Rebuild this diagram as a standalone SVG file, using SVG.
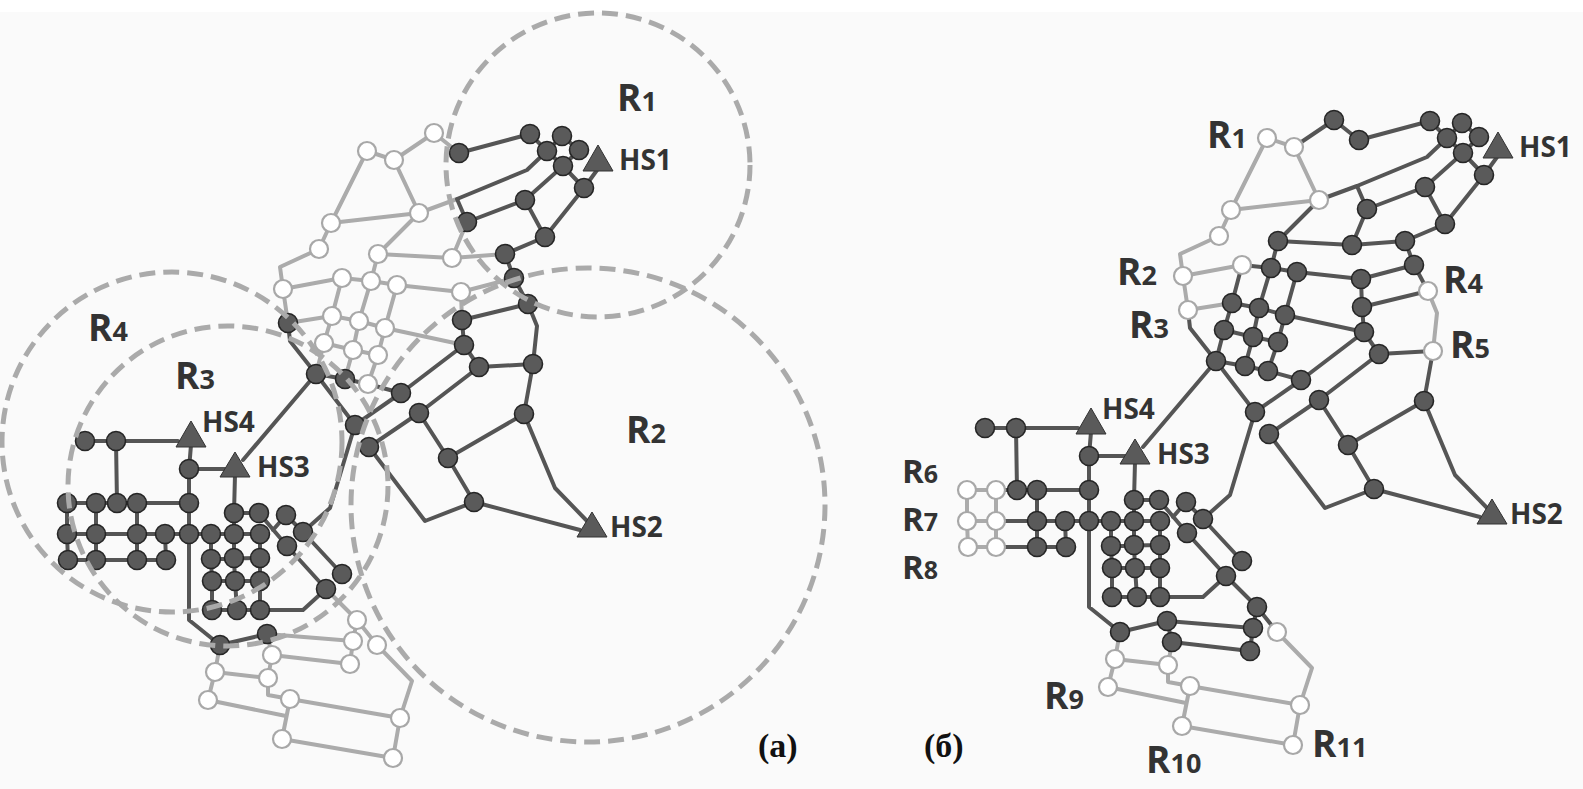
<svg xmlns="http://www.w3.org/2000/svg" width="1583" height="789" viewBox="0 0 1583 789">
<style>
.e{fill:none;stroke-width:4;stroke-linejoin:round;stroke-linecap:round}
.d{stroke:#555}
.l{stroke:#ababab}
.k{fill:#5a5a5a;stroke:#262626;stroke-width:1.6}
.w{fill:#fff;stroke:#a8a8a8;stroke-width:2.2}
.hs{fill:#5a5a5a;stroke:#333;stroke-width:1}
.t{font-family:"Open Sans","Liberation Sans",sans-serif;font-weight:700;fill:#333}
.r{font-size:37px}
.r tspan{font-size:27px}
.s{font-size:33px}
.s tspan{font-size:25px}
.h{font-size:28px}
.p{font-family:"Liberation Serif",serif;font-weight:700;font-size:34px;fill:#111}
.zone{fill:none;stroke:#aaa;stroke-width:5;stroke-dasharray:16 8}
</style>
<rect width="1583" height="789" fill="#fafafa"/>
<rect width="1583" height="12" fill="#fff"/>

<g id="panel-a">
<g id="a-connectors">
<g class="e l">
<path d="M367 151L394 160M367 151L331 223M394 160L419 213M394 160L434 133L459 153M331 223L419 213M331 223L319 249L280 267L283 289M419 213L457 199M419 213L378 254L452 258L505 254M452 258L467 222M378 254L371 281M283 289L342 278L371 281L397 285L461 292L514 278M461 292L462 320M283 289L288 323M288 323L332 316L359 321L385 328L464 345M342 278L332 316L324 343L316 374M371 281L359 321L353 350L345 379M397 285L385 328L378 355L368 384M324 343L353 350L378 355"/>
<path d="M326 589L357 620L377 645L412 681L400 718M357 620L353 641L350 664M267 634L353 641M267 634L272 655L350 664M220 645L215 672L208 700L286 716M215 672L268 678L268 695L290 699L400 718M272 655L268 678M290 699L282 739L393 758L400 718"/>
</g>
<g class="e d">
<path d="M459 153L530 134L547 151L562 136L579 150L563 166M547 151L563 166L584 188L600 166M563 166L525 200L467 222M525 200L545 237M584 188L545 237L505 254M547 151L527 170L457 199L467 222M505 254L514 278L528 304L462 320M528 304L537 326L533 364M462 320L464 345L479 367L533 364"/>
<path d="M288 323L290 341L316 374L345 379L368 384L401 393M316 374L355 425L401 393M464 345L401 393M479 367L419 413L369 447M419 413L448 458L474 502M448 458L524 414L533 364M524 414L555 488L588 522M474 502L580 530M474 502L425 521L369 447M355 425L330 508L303 532M316 374L243 460"/>
<path d="M85 441L178 441M116 441L117 503M191 445L189 469L189 620L220 645M189 469L225 469M235 475L234 513L234 534L234 558L235 581L237 610M67 503L189 503M67 534L260 534M68 560L166 560M67 503L67 534L68 560M96 503L96 534L96 560M137 503L137 534L137 560M165 534L166 560M211 534L211 559L212 581L212 610M260 534L260 558L260 581L260 610M211 559L260 558M212 581L260 581M212 610L260 610L303 610L326 589M234 513L259 513M259 513L287 546L326 589M286 515L273 530M286 515L303 532L342 574M220 645L267 634"/>
</g>
</g>
<g id="a-nodes">
<g id="a-n1"><circle class="w" cx="434" cy="133" r="9"/></g>
<g id="a-n2"><circle class="w" cx="367" cy="151" r="9"/></g>
<g id="a-n3"><circle class="w" cx="394" cy="160" r="9"/></g>
<g id="a-n4"><circle class="k" cx="459" cy="153" r="9.5"/></g>
<g id="a-n5"><circle class="k" cx="530" cy="134" r="9.5"/></g>
<g id="a-n6"><circle class="k" cx="562" cy="136" r="9.5"/></g>
<g id="a-n7"><circle class="k" cx="547" cy="151" r="9.5"/></g>
<g id="a-n8"><circle class="k" cx="579" cy="150" r="9.5"/></g>
<g id="a-n9"><circle class="k" cx="563" cy="166" r="9.5"/></g>
<g id="a-n10"><circle class="k" cx="584" cy="188" r="9.5"/></g>
<g id="a-n11"><circle class="k" cx="525" cy="200" r="9.5"/></g>
<g id="a-n12"><circle class="k" cx="467" cy="222" r="9.5"/></g>
<g id="a-n13"><circle class="k" cx="545" cy="237" r="9.5"/></g>
<g id="a-n14"><circle class="w" cx="419" cy="213" r="9"/></g>
<g id="a-n15"><circle class="w" cx="331" cy="223" r="9"/></g>
<g id="a-n16"><circle class="w" cx="319" cy="249" r="9"/></g>
<g id="a-n17"><circle class="w" cx="378" cy="254" r="9"/></g>
<g id="a-n18"><circle class="w" cx="452" cy="258" r="9"/></g>
<g id="a-n19"><circle class="k" cx="505" cy="254" r="9.5"/></g>
<g id="a-n20"><circle class="k" cx="514" cy="278" r="9.5"/></g>
<g id="a-n21"><circle class="k" cx="528" cy="304" r="9.5"/></g>
<g id="a-n22"><circle class="w" cx="283" cy="289" r="9"/></g>
<g id="a-n23"><circle class="w" cx="342" cy="278" r="9"/></g>
<g id="a-n24"><circle class="w" cx="371" cy="281" r="9"/></g>
<g id="a-n25"><circle class="w" cx="397" cy="285" r="9"/></g>
<g id="a-n26"><circle class="w" cx="461" cy="292" r="9"/></g>
<g id="a-n27"><circle class="k" cx="288" cy="323" r="9.5"/></g>
<g id="a-n28"><circle class="w" cx="332" cy="316" r="9"/></g>
<g id="a-n29"><circle class="w" cx="359" cy="321" r="9"/></g>
<g id="a-n30"><circle class="w" cx="385" cy="328" r="9"/></g>
<g id="a-n31"><circle class="k" cx="462" cy="320" r="9.5"/></g>
<g id="a-n32"><circle class="w" cx="324" cy="343" r="9"/></g>
<g id="a-n33"><circle class="w" cx="353" cy="350" r="9"/></g>
<g id="a-n34"><circle class="w" cx="378" cy="355" r="9"/></g>
<g id="a-n35"><circle class="k" cx="464" cy="345" r="9.5"/></g>
<g id="a-n36"><circle class="k" cx="316" cy="374" r="9.5"/></g>
<g id="a-n37"><circle class="k" cx="345" cy="379" r="9.5"/></g>
<g id="a-n38"><circle class="w" cx="368" cy="384" r="9"/></g>
<g id="a-n39"><circle class="k" cx="401" cy="393" r="9.5"/></g>
<g id="a-n40"><circle class="k" cx="479" cy="367" r="9.5"/></g>
<g id="a-n41"><circle class="k" cx="533" cy="364" r="9.5"/></g>
<g id="a-n42"><circle class="k" cx="355" cy="425" r="9.5"/></g>
<g id="a-n43"><circle class="k" cx="369" cy="447" r="9.5"/></g>
<g id="a-n44"><circle class="k" cx="419" cy="413" r="9.5"/></g>
<g id="a-n45"><circle class="k" cx="524" cy="414" r="9.5"/></g>
<g id="a-n46"><circle class="k" cx="448" cy="458" r="9.5"/></g>
<g id="a-n47"><circle class="k" cx="474" cy="502" r="9.5"/></g>
<g id="a-m1"><circle class="k" cx="85" cy="441" r="9.5"/></g>
<g id="a-m2"><circle class="k" cx="116" cy="441" r="9.5"/></g>
<g id="a-m3"><circle class="k" cx="189" cy="469" r="9.5"/></g>
<g id="a-m4"><circle class="k" cx="67" cy="503" r="9.5"/></g>
<g id="a-m5"><circle class="k" cx="96" cy="503" r="9.5"/></g>
<g id="a-m6"><circle class="k" cx="117" cy="503" r="9.5"/></g>
<g id="a-m7"><circle class="k" cx="137" cy="503" r="9.5"/></g>
<g id="a-m8"><circle class="k" cx="189" cy="503" r="9.5"/></g>
<g id="a-m9"><circle class="k" cx="67" cy="534" r="9.5"/></g>
<g id="a-m10"><circle class="k" cx="96" cy="534" r="9.5"/></g>
<g id="a-m11"><circle class="k" cx="137" cy="534" r="9.5"/></g>
<g id="a-m12"><circle class="k" cx="165" cy="534" r="9.5"/></g>
<g id="a-m13"><circle class="k" cx="189" cy="534" r="9.5"/></g>
<g id="a-m14"><circle class="k" cx="211" cy="534" r="9.5"/></g>
<g id="a-m15"><circle class="k" cx="234" cy="534" r="9.5"/></g>
<g id="a-m16"><circle class="k" cx="260" cy="534" r="9.5"/></g>
<g id="a-m17"><circle class="k" cx="68" cy="560" r="9.5"/></g>
<g id="a-m18"><circle class="k" cx="96" cy="560" r="9.5"/></g>
<g id="a-m19"><circle class="k" cx="137" cy="560" r="9.5"/></g>
<g id="a-m20"><circle class="k" cx="166" cy="560" r="9.5"/></g>
<g id="a-m21"><circle class="k" cx="234" cy="513" r="9.5"/></g>
<g id="a-m22"><circle class="k" cx="259" cy="513" r="9.5"/></g>
<g id="a-m23"><circle class="k" cx="286" cy="515" r="9.5"/></g>
<g id="a-m24"><circle class="k" cx="303" cy="532" r="9.5"/></g>
<g id="a-m25"><circle class="k" cx="287" cy="546" r="9.5"/></g>
<g id="a-m26"><circle class="k" cx="211" cy="559" r="9.5"/></g>
<g id="a-m27"><circle class="k" cx="234" cy="558" r="9.5"/></g>
<g id="a-m28"><circle class="k" cx="260" cy="558" r="9.5"/></g>
<g id="a-m29"><circle class="k" cx="212" cy="581" r="9.5"/></g>
<g id="a-m30"><circle class="k" cx="235" cy="581" r="9.5"/></g>
<g id="a-m31"><circle class="k" cx="260" cy="581" r="9.5"/></g>
<g id="a-m32"><circle class="k" cx="212" cy="610" r="9.5"/></g>
<g id="a-m33"><circle class="k" cx="237" cy="610" r="9.5"/></g>
<g id="a-m34"><circle class="k" cx="260" cy="610" r="9.5"/></g>
<g id="a-m35"><circle class="k" cx="342" cy="574" r="9.5"/></g>
<g id="a-m36"><circle class="k" cx="326" cy="589" r="9.5"/></g>
<g id="a-m37"><circle class="k" cx="220" cy="645" r="9.5"/></g>
<g id="a-m38"><circle class="k" cx="267" cy="634" r="9.5"/></g>
<g id="a-b1"><circle class="w" cx="357" cy="620" r="9"/></g>
<g id="a-b2"><circle class="w" cx="353" cy="641" r="9"/></g>
<g id="a-b3"><circle class="w" cx="350" cy="664" r="9"/></g>
<g id="a-b4"><circle class="w" cx="377" cy="645" r="9"/></g>
<g id="a-b5"><circle class="w" cx="272" cy="655" r="9"/></g>
<g id="a-b6"><circle class="w" cx="215" cy="672" r="9"/></g>
<g id="a-b7"><circle class="w" cx="268" cy="678" r="9"/></g>
<g id="a-b8"><circle class="w" cx="208" cy="700" r="9"/></g>
<g id="a-b9"><circle class="w" cx="290" cy="699" r="9"/></g>
<g id="a-b10"><circle class="w" cx="400" cy="718" r="9"/></g>
<g id="a-b11"><circle class="w" cx="282" cy="739" r="9"/></g>
<g id="a-b12"><circle class="w" cx="393" cy="758" r="9"/></g>
<g id="a-HS1"><polygon class="hs" points="598,145 613,171 583,171"/><text class="t h" x="619" y="170">HS1</text></g>
<g id="a-HS2"><polygon class="hs" points="592,512 607,537 577,537"/><text class="t h" x="610" y="537">HS2</text></g>
<g id="a-HS3"><polygon class="hs" points="235,452 250,477 220,477"/><text class="t h" x="257" y="477">HS3</text></g>
<g id="a-HS4"><polygon class="hs" points="191,421 206,447 176,447"/><text class="t h" x="202" y="432">HS4</text></g>
</g>
<g id="a-zones">
<circle class="zone" cx="598" cy="165" r="152"/>
<circle class="zone" cx="588" cy="505" r="237"/>
<circle class="zone" cx="228" cy="486" r="160"/>
<circle class="zone" cx="172" cy="442" r="170"/>
<text class="t r" x="617" y="111">R<tspan>1</tspan></text>
<text class="t r" x="626" y="443">R<tspan>2</tspan></text>
<text class="t r" x="175" y="389">R<tspan>3</tspan></text>
<text class="t r" x="88" y="341">R<tspan>4</tspan></text>
</g>
<text class="p" x="758" y="757">(a)</text>
</g>

<g id="panel-b">
<g transform="translate(900,-13)">
<g id="b-connectors">
<g class="e l">
<path d="M367 151L394 160M367 151L331 223M394 160L419 213M331 223L419 213M331 223L319 249L280 267L283 289M283 289L342 278M283 289L288 323M288 323L332 316M528 304L537 326L533 364"/>
<path d="M67 503L96 503M67 534L96 534M68 560L96 560M67 503L67 534L68 560M96 503L96 534L96 560"/>
<path d="M377 645L412 681L400 718M220 645L215 672L208 700L286 716M215 672L268 678L268 695L290 699L400 718M272 655L268 678M290 699L282 739L393 758L400 718"/>
</g>
<g class="e d">
<path d="M394 160L434 133L459 153L530 134L547 151L562 136L579 150L563 166M547 151L563 166L584 188L600 166M563 166L525 200L467 222M525 200L545 237M584 188L545 237L505 254M547 151L527 170L457 199L467 222M457 199L419 213M419 213L378 254L452 258L505 254M452 258L467 222M378 254L371 281M342 278L371 281L397 285L461 292L514 278M461 292L462 320M505 254L514 278L528 304L462 320M462 320L464 345L479 367L533 364M332 316L359 321L385 328L464 345M342 278L332 316L324 343L316 374M371 281L359 321L353 350L345 379M397 285L385 328L378 355L368 384M324 343L353 350L378 355"/>
<path d="M288 323L290 341L316 374L345 379L368 384L401 393M316 374L355 425L401 393M464 345L401 393M479 367L419 413L369 447M419 413L448 458L474 502M448 458L524 414L533 364M524 414L555 488L588 522M474 502L580 530M474 502L425 521L369 447M355 425L330 508L303 532M316 374L243 460"/>
<path d="M85 441L178 441M116 441L117 503M191 445L189 469L189 620L220 645M189 469L225 469M235 475L234 513L234 534L234 558L235 581L237 610M96 503L189 503M96 534L260 534M96 560L166 560M137 503L137 534L137 560M165 534L166 560M211 534L211 559L212 581L212 610M260 534L260 558L260 581L260 610M211 559L260 558M212 581L260 581M212 610L260 610L303 610L326 589M234 513L259 513M259 513L287 546L326 589M286 515L273 530M286 515L303 532L342 574M220 645L267 634"/>
<path d="M326 589L357 620L377 645M357 620L353 641L350 664M267 634L353 641M267 634L272 655L350 664"/>
</g>
</g>
<g id="b-nodes">
<g id="b-n1"><circle class="k" cx="434" cy="133" r="9.5"/></g>
<g id="b-n2"><circle class="w" cx="367" cy="151" r="9"/></g>
<g id="b-n3"><circle class="w" cx="394" cy="160" r="9"/></g>
<g id="b-n4"><circle class="k" cx="459" cy="153" r="9.5"/></g>
<g id="b-n5"><circle class="k" cx="530" cy="134" r="9.5"/></g>
<g id="b-n6"><circle class="k" cx="562" cy="136" r="9.5"/></g>
<g id="b-n7"><circle class="k" cx="547" cy="151" r="9.5"/></g>
<g id="b-n8"><circle class="k" cx="579" cy="150" r="9.5"/></g>
<g id="b-n9"><circle class="k" cx="563" cy="166" r="9.5"/></g>
<g id="b-n10"><circle class="k" cx="584" cy="188" r="9.5"/></g>
<g id="b-n11"><circle class="k" cx="525" cy="200" r="9.5"/></g>
<g id="b-n12"><circle class="k" cx="467" cy="222" r="9.5"/></g>
<g id="b-n13"><circle class="k" cx="545" cy="237" r="9.5"/></g>
<g id="b-n14"><circle class="w" cx="419" cy="213" r="9"/></g>
<g id="b-n15"><circle class="w" cx="331" cy="223" r="9"/></g>
<g id="b-n16"><circle class="w" cx="319" cy="249" r="9"/></g>
<g id="b-n17"><circle class="k" cx="378" cy="254" r="9.5"/></g>
<g id="b-n18"><circle class="k" cx="452" cy="258" r="9.5"/></g>
<g id="b-n19"><circle class="k" cx="505" cy="254" r="9.5"/></g>
<g id="b-n20"><circle class="k" cx="514" cy="278" r="9.5"/></g>
<g id="b-n21"><circle class="w" cx="528" cy="304" r="9"/></g>
<g id="b-n22"><circle class="w" cx="283" cy="289" r="9"/></g>
<g id="b-n23"><circle class="w" cx="342" cy="278" r="9"/></g>
<g id="b-n24"><circle class="k" cx="371" cy="281" r="9.5"/></g>
<g id="b-n25"><circle class="k" cx="397" cy="285" r="9.5"/></g>
<g id="b-n26"><circle class="k" cx="461" cy="292" r="9.5"/></g>
<g id="b-n27"><circle class="w" cx="288" cy="323" r="9"/></g>
<g id="b-n28"><circle class="k" cx="332" cy="316" r="9.5"/></g>
<g id="b-n29"><circle class="k" cx="359" cy="321" r="9.5"/></g>
<g id="b-n30"><circle class="k" cx="385" cy="328" r="9.5"/></g>
<g id="b-n31"><circle class="k" cx="462" cy="320" r="9.5"/></g>
<g id="b-n32"><circle class="k" cx="324" cy="343" r="9.5"/></g>
<g id="b-n33"><circle class="k" cx="353" cy="350" r="9.5"/></g>
<g id="b-n34"><circle class="k" cx="378" cy="355" r="9.5"/></g>
<g id="b-n35"><circle class="k" cx="464" cy="345" r="9.5"/></g>
<g id="b-n36"><circle class="k" cx="316" cy="374" r="9.5"/></g>
<g id="b-n37"><circle class="k" cx="345" cy="379" r="9.5"/></g>
<g id="b-n38"><circle class="k" cx="368" cy="384" r="9.5"/></g>
<g id="b-n39"><circle class="k" cx="401" cy="393" r="9.5"/></g>
<g id="b-n40"><circle class="k" cx="479" cy="367" r="9.5"/></g>
<g id="b-n41"><circle class="w" cx="533" cy="364" r="9"/></g>
<g id="b-n42"><circle class="k" cx="355" cy="425" r="9.5"/></g>
<g id="b-n43"><circle class="k" cx="369" cy="447" r="9.5"/></g>
<g id="b-n44"><circle class="k" cx="419" cy="413" r="9.5"/></g>
<g id="b-n45"><circle class="k" cx="524" cy="414" r="9.5"/></g>
<g id="b-n46"><circle class="k" cx="448" cy="458" r="9.5"/></g>
<g id="b-n47"><circle class="k" cx="474" cy="502" r="9.5"/></g>
<g id="b-m1"><circle class="k" cx="85" cy="441" r="9.5"/></g>
<g id="b-m2"><circle class="k" cx="116" cy="441" r="9.5"/></g>
<g id="b-m3"><circle class="k" cx="189" cy="469" r="9.5"/></g>
<g id="b-m4"><circle class="w" cx="67" cy="503" r="9"/></g>
<g id="b-m5"><circle class="w" cx="96" cy="503" r="9"/></g>
<g id="b-m6"><circle class="k" cx="117" cy="503" r="9.5"/></g>
<g id="b-m7"><circle class="k" cx="137" cy="503" r="9.5"/></g>
<g id="b-m8"><circle class="k" cx="189" cy="503" r="9.5"/></g>
<g id="b-m9"><circle class="w" cx="67" cy="534" r="9"/></g>
<g id="b-m10"><circle class="w" cx="96" cy="534" r="9"/></g>
<g id="b-m11"><circle class="k" cx="137" cy="534" r="9.5"/></g>
<g id="b-m12"><circle class="k" cx="165" cy="534" r="9.5"/></g>
<g id="b-m13"><circle class="k" cx="189" cy="534" r="9.5"/></g>
<g id="b-m14"><circle class="k" cx="211" cy="534" r="9.5"/></g>
<g id="b-m15"><circle class="k" cx="234" cy="534" r="9.5"/></g>
<g id="b-m16"><circle class="k" cx="260" cy="534" r="9.5"/></g>
<g id="b-m17"><circle class="w" cx="68" cy="560" r="9"/></g>
<g id="b-m18"><circle class="w" cx="96" cy="560" r="9"/></g>
<g id="b-m19"><circle class="k" cx="137" cy="560" r="9.5"/></g>
<g id="b-m20"><circle class="k" cx="166" cy="560" r="9.5"/></g>
<g id="b-m21"><circle class="k" cx="234" cy="513" r="9.5"/></g>
<g id="b-m22"><circle class="k" cx="259" cy="513" r="9.5"/></g>
<g id="b-m23"><circle class="k" cx="286" cy="515" r="9.5"/></g>
<g id="b-m24"><circle class="k" cx="303" cy="532" r="9.5"/></g>
<g id="b-m25"><circle class="k" cx="287" cy="546" r="9.5"/></g>
<g id="b-m26"><circle class="k" cx="211" cy="559" r="9.5"/></g>
<g id="b-m27"><circle class="k" cx="234" cy="558" r="9.5"/></g>
<g id="b-m28"><circle class="k" cx="260" cy="558" r="9.5"/></g>
<g id="b-m29"><circle class="k" cx="212" cy="581" r="9.5"/></g>
<g id="b-m30"><circle class="k" cx="235" cy="581" r="9.5"/></g>
<g id="b-m31"><circle class="k" cx="260" cy="581" r="9.5"/></g>
<g id="b-m32"><circle class="k" cx="212" cy="610" r="9.5"/></g>
<g id="b-m33"><circle class="k" cx="237" cy="610" r="9.5"/></g>
<g id="b-m34"><circle class="k" cx="260" cy="610" r="9.5"/></g>
<g id="b-m35"><circle class="k" cx="342" cy="574" r="9.5"/></g>
<g id="b-m36"><circle class="k" cx="326" cy="589" r="9.5"/></g>
<g id="b-m37"><circle class="k" cx="220" cy="645" r="9.5"/></g>
<g id="b-m38"><circle class="k" cx="267" cy="634" r="9.5"/></g>
<g id="b-b1"><circle class="k" cx="357" cy="620" r="9.5"/></g>
<g id="b-b2"><circle class="k" cx="353" cy="641" r="9.5"/></g>
<g id="b-b3"><circle class="k" cx="350" cy="664" r="9.5"/></g>
<g id="b-b4"><circle class="w" cx="377" cy="645" r="9"/></g>
<g id="b-b5"><circle class="k" cx="272" cy="655" r="9.5"/></g>
<g id="b-b6"><circle class="w" cx="215" cy="672" r="9"/></g>
<g id="b-b7"><circle class="w" cx="268" cy="678" r="9"/></g>
<g id="b-b8"><circle class="w" cx="208" cy="700" r="9"/></g>
<g id="b-b9"><circle class="w" cx="290" cy="699" r="9"/></g>
<g id="b-b10"><circle class="w" cx="400" cy="718" r="9"/></g>
<g id="b-b11"><circle class="w" cx="282" cy="739" r="9"/></g>
<g id="b-b12"><circle class="w" cx="393" cy="758" r="9"/></g>
<g id="b-HS1"><polygon class="hs" points="598,145 613,171 583,171"/></g>
<g id="b-HS2"><polygon class="hs" points="592,512 607,537 577,537"/></g>
<g id="b-HS3"><polygon class="hs" points="235,452 250,477 220,477"/></g>
<g id="b-HS4"><polygon class="hs" points="191,421 206,447 176,447"/></g>
</g>
</g>
<g id="b-labels">
<text class="t h" x="1519" y="157">HS1</text>
<text class="t h" x="1510" y="524">HS2</text>
<text class="t h" x="1157" y="464">HS3</text>
<text class="t h" x="1102" y="419">HS4</text>
<text class="t r" x="1207" y="148">R<tspan>1</tspan></text>
<text class="t r" x="1117" y="285">R<tspan>2</tspan></text>
<text class="t r" x="1129" y="338">R<tspan>3</tspan></text>
<text class="t r" x="1443" y="293">R<tspan>4</tspan></text>
<text class="t r" x="1450" y="358">R<tspan>5</tspan></text>
<text class="t s" x="902" y="483">R<tspan>6</tspan></text>
<text class="t s" x="902" y="531">R<tspan>7</tspan></text>
<text class="t s" x="902" y="579">R<tspan>8</tspan></text>
<text class="t r" x="1044" y="709">R<tspan>9</tspan></text>
<text class="t r" x="1146" y="773">R<tspan>10</tspan></text>
<text class="t r" x="1312" y="757">R<tspan>11</tspan></text>
<text class="p" x="924" y="757">(б)</text>
</g>
</g>
</svg>
